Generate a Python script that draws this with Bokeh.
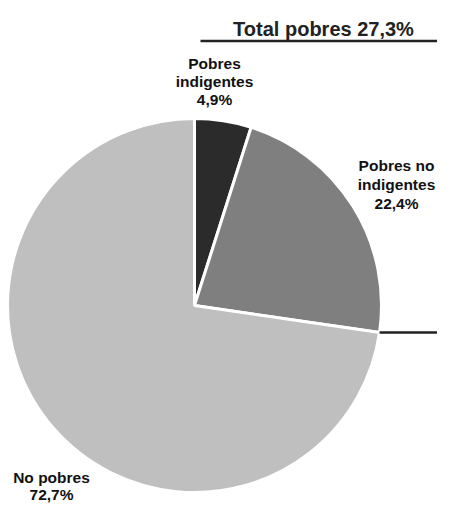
from bokeh.plotting import figure
from bokeh.models import Range1d
from bokeh.core.properties import value
from bokeh.embed import file_html
from bokeh.resources import INLINE
import math

# Data
categories = ["Pobres indigentes", "Pobres no indigentes", "No pobres"]
shares = [4.9, 22.4, 72.7]
label_lines = [["Pobres", "indigentes", "4,9%"],
               ["Pobres no", "indigentes", "22,4%"],
               ["No pobres", "72,7%"]]
colors = ["#2b2b2b", "#7f7f7f", "#bfbfbf"]
title_text = "Total pobres 27,3%"

W, H = 437, 505
p = figure(width=W, height=H, output_backend="svg", toolbar_location=None,
           x_range=Range1d(0, W), y_range=Range1d(0, H),
           min_border=0, outline_line_color=None)
p.axis.visible = False
p.grid.visible = False
p.background_fill_color = "white"
p.border_fill_color = "white"

def sy(y):
    return H - y

cx, cy, r = 194, sy(305), 187
total = sum(shares)
cum = 0.0
starts, ends = [], []
for s in shares:
    a0 = math.pi / 2 - 2 * math.pi * cum / total
    cum += s
    a1 = math.pi / 2 - 2 * math.pi * cum / total
    starts.append(a0)
    ends.append(a1)

p.wedge(x=[cx] * 3, y=[cy] * 3, radius=r, start_angle=starts, end_angle=ends,
        direction="clock", fill_color=colors, line_color="white", line_width=3)

# bracket lines for total poor
poor_end = ends[1]
bx = cx + r * math.cos(poor_end)
by = cy + r * math.sin(poor_end)
p.segment(x0=[bx], y0=[by], x1=[W], y1=[by], line_color="#222222", line_width=2.5)
p.segment(x0=[200], y0=[sy(40.5)], x1=[W], y1=[sy(40.5)], line_color="#222222", line_width=2.5)

font = value("Liberation Sans")
p.text(x=[323], y=[sy(28)], text=[title_text], text_font=font, text_font_size="20px",
       text_font_style="bold", text_align="center", text_baseline="alphabetic", text_color="#222222")

label_pos = [(214, 63, 18), (396, 165, 19), (51, 477, 17)]
for lines, (lx, ly, lh) in zip(label_lines, label_pos):
    xs = [lx] * len(lines)
    ys = [sy(ly + i * lh) for i in range(len(lines))]
    p.text(x=xs, y=ys, text=lines, text_font=font, text_font_size="15.5px",
           text_font_style="bold", text_align="center", text_baseline="alphabetic",
           text_color="#111111")

open("out.html", "w").write(file_html(p, INLINE))
